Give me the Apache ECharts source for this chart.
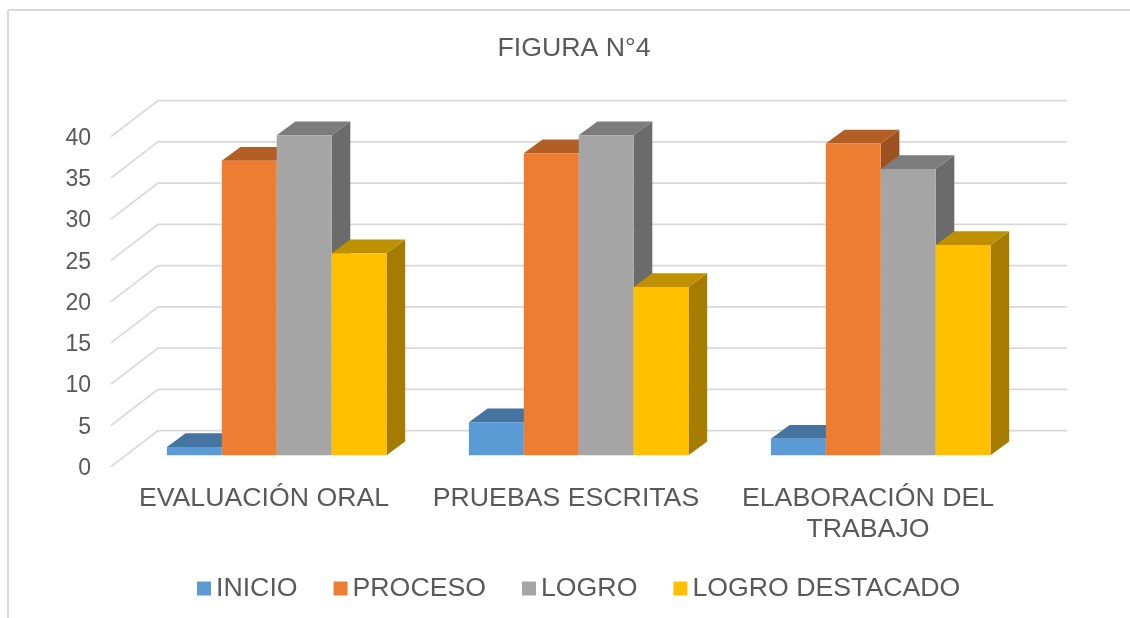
<!DOCTYPE html>
<html>
<head>
<meta charset="utf-8">
<title>FIGURA N°4</title>
<script src="https://cdn.jsdelivr.net/npm/echarts@6/dist/echarts.min.js"></script>
<style>
  html, body { margin: 0; padding: 0; background: #fff; }
  #chart { width: 1130px; height: 618px; }
</style>
</head>
<body>
<div id="chart"></div>
<script>
const categories = ['EVALUACIÓN ORAL', 'PRUEBAS ESCRITAS', 'ELABORACIÓN DEL\nTRABAJO'];
const yTicks = [0, 5, 10, 15, 20, 25, 30, 35, 40];

const inicio = [1, 4, 2];
const proceso = [35.7, 36.6, 37.8];
const logro = [38.8, 38.8, 34.7];
const logroDestacado = [24.5, 20.4, 25.5];

// 3d look: back wall and bar plane are offset from the front plane
const wallDx = 47, wallDy = -36;
const planeDx = 12.7, planeDy = -11.3;
const depthDx = 18.7, depthDy = -13.8;
const barWidth = 54.9;

const textColor = '#595959';
const lineColor = '#d9d9d9';
const font = '"Liberation Sans", Arial, sans-serif';

function poly(points, fill) {
  return { type: 'polygon', shape: { points }, style: { fill }, silent: true };
}

// one series per legend entry, pos = place of the bar inside its group
function barSeries(name, values, pos, front, top, side) {
  return {
    name,
    type: 'custom',
    clip: false,
    silent: true,
    itemStyle: { color: front },
    data: values.map((v, i) => [i, v]),
    encode: { x: 0, y: 1 },
    z: 3,
    renderItem(params, api) {
      const p = api.coord([api.value(0), api.value(1)]);
      const base = api.coord([api.value(0), 0]);
      const x0 = p[0] + planeDx + (pos - 2) * barWidth;
      const x1 = x0 + barWidth;
      const y0 = base[1] + planeDy;
      const y1 = p[1] + planeDy;
      return {
        type: 'group',
        children: [
          poly([[x1, y0], [x1 + depthDx, y0 + depthDy], [x1 + depthDx, y1 + depthDy], [x1, y1]], side),
          poly([[x0, y1], [x1, y1], [x1 + depthDx, y1 + depthDy], [x0 + depthDx, y1 + depthDy]], top),
          poly([[x0, y0], [x1, y0], [x1, y1], [x0, y1]], front)
        ]
      };
    }
  };
}

const wallSeries = {
  name: 'wall',
  type: 'custom',
  clip: false,
  silent: true,
  data: yTicks.map(v => [0, v]),
  encode: { x: 0, y: 1 },
  z: 1,
  renderItem(params, api) {
    const rect = params.coordSys;
    const y = api.coord([0, api.value(1)])[1];
    return {
      type: 'polyline',
      silent: true,
      shape: {
        points: [
          [rect.x - 2, y],
          [rect.x - 2 + wallDx, y + wallDy],
          [rect.x + rect.width + wallDx + 1, y + wallDy]
        ]
      },
      style: { fill: null, stroke: lineColor, lineWidth: 1.8 }
    };
  }
};

const chart = echarts.init(document.getElementById('chart'), null, { renderer: 'canvas' });
chart.setOption({
  animation: false,
  backgroundColor: '#fff',
  textStyle: { fontFamily: font },
  title: {
    text: 'FIGURA N°4',
    left: 569,
    top: 30,
    textAlign: 'center',
    textStyle: { color: textColor, fontSize: 26.7, fontWeight: 'normal', fontFamily: font }
  },
  legend: {
    data: ['INICIO', 'PROCESO', 'LOGRO', 'LOGRO DESTACADO'],
    left: 192,
    top: 570,
    icon: 'rect',
    itemWidth: 14,
    itemHeight: 14,
    itemGap: 36,
    selectedMode: false,
    textStyle: { color: textColor, fontSize: 26.7, fontFamily: font }
  },
  grid: { left: 113, top: 136.6, width: 906, height: 330 },
  xAxis: {
    type: 'category',
    data: categories,
    axisLine: { show: false },
    axisTick: { show: false },
    axisLabel: { color: textColor, fontSize: 26.7, fontFamily: font, margin: 17, lineHeight: 31, interval: 0 }
  },
  yAxis: {
    type: 'value',
    min: 0,
    max: 40,
    interval: 5,
    axisLine: { show: false },
    axisTick: { show: false },
    splitLine: { show: false },
    // labels sit a little under the grid line in the original
    axisLabel: { color: textColor, fontSize: 23, fontFamily: font, margin: 22, verticalAlign: 'top', lineHeight: 4 }
  },
  graphic: [
    { type: 'line', silent: true, shape: { x1: 8, y1: 10, x2: 1130, y2: 10 }, style: { stroke: lineColor, lineWidth: 2 } },
    { type: 'line', silent: true, shape: { x1: 8, y1: 10, x2: 8, y2: 618 }, style: { stroke: lineColor, lineWidth: 2 } }
  ],
  series: [
    wallSeries,
    barSeries('INICIO', inicio, 0, '#5b9bd5', '#44749f', '#3d6a90'),
    barSeries('PROCESO', proceso, 1, '#ed7d31', '#b25e24', '#9b5220'),
    barSeries('LOGRO', logro, 2, '#a5a5a5', '#7c7c7c', '#6b6b6b'),
    barSeries('LOGRO DESTACADO', logroDestacado, 3, '#ffc000', '#bf9000', '#a67c00')
  ]
});
window.addEventListener('resize', () => chart.resize());
</script>
</body>
</html>
